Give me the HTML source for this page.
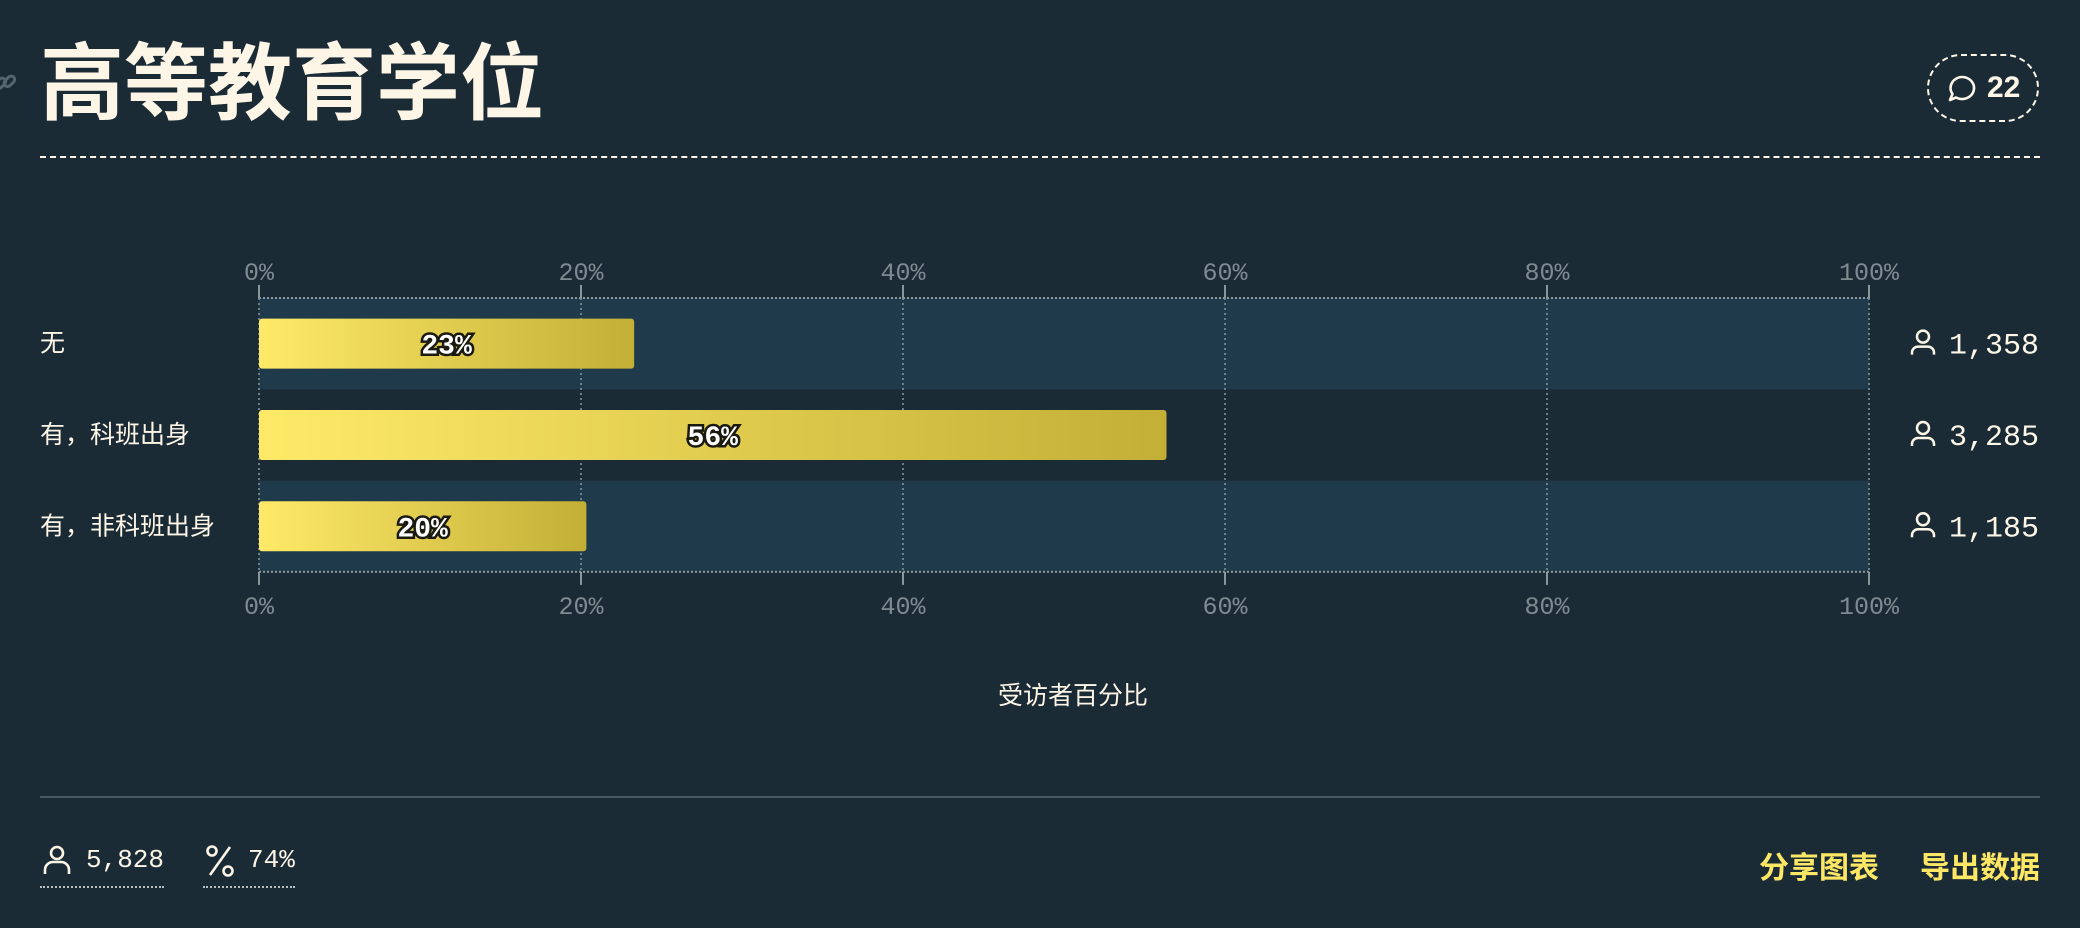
<!DOCTYPE html>
<html><head><meta charset="utf-8">
<style>
html,body{margin:0;padding:0;background:#1a2b36;}
body{width:2080px;height:928px;position:relative;overflow:hidden;font-family:"Liberation Sans","Noto Sans CJK SC",sans-serif;color:#fdf6e7;}
.abs{position:absolute;}
</style></head>
<body>
<div class="abs" style="left:-8px;top:70px;width:26px;height:26px;">
<svg width="26" height="26" viewBox="0 0 26 26"><g fill="none" stroke="#55656f" stroke-width="3"><rect x="2" y="10" width="12" height="7" rx="3.5" transform="rotate(-45 8 13)"/><rect x="11" y="8" width="12" height="7" rx="3.5" transform="rotate(-45 17 11)"/></g></svg></div>
<div class="abs" style="left:40px;top:34px;font-size:84px;font-weight:bold;line-height:100px;color:#fdf6e7;font-family:'Liberation Sans','Noto Sans CJK SC',sans-serif;">高等教育学位</div>
<div class="abs" style="left:1927px;top:54px;width:112px;height:68px;border:2px dashed #fdf6e7;border-radius:34px;box-sizing:border-box;">
<svg class="abs" style="left:18px;top:18px" width="30" height="30" viewBox="0 0 30 30"><path d="M15 3a12 11 0 1 1-6 20.5L3 26l2.5-6A12 11 0 0 1 15 3z" fill="none" stroke="#fdf6e7" stroke-width="2.6" stroke-linejoin="round"/></svg>
<span class="abs" style="left:58px;top:15px;font-size:30px;font-weight:bold;">22</span></div>
<div class="abs" style="left:40px;top:156px;width:2000px;border-top:2px dashed #fdf6e7;"></div>

<svg id="chart" class="abs" style="left:0;top:0" width="2080" height="928">
<defs><linearGradient id="g" x1="0" y1="0" x2="1" y2="0"><stop offset="0" stop-color="#ffea68"/><stop offset="1" stop-color="#c3af36"/></linearGradient></defs>
</svg>

<div class="abs" style="left:900px;top:676px;width:346px;text-align:center;font-size:25px;">受访者百分比</div>
<div class="abs" style="left:40px;top:796px;width:2000px;height:2px;background:#4a5a64;"></div>

<div class="abs" style="left:40px;top:842px;height:44px;width:124px;border-bottom:2px dotted #b8c0c4;">
<svg class="abs" style="left:2px;top:2px" width="30" height="32" viewBox="0 0 30 32"><circle cx="15" cy="9" r="6" fill="none" stroke="#fdf6e7" stroke-width="2.6"/><path d="M3 30v-4a8 8 0 0 1 8-8h8a8 8 0 0 1 8 8v4" fill="none" stroke="#fdf6e7" stroke-width="2.6"/></svg>
<span class="abs" style="left:46px;top:3px;font-size:26px;font-family:'Liberation Mono',monospace;">5,828</span></div>
<div class="abs" style="left:203px;top:842px;height:44px;width:92px;border-bottom:2px dotted #b8c0c4;">
<svg class="abs" style="left:2px;top:2px" width="30" height="34" viewBox="0 0 30 34"><circle cx="7" cy="7" r="4.5" fill="none" stroke="#fdf6e7" stroke-width="2.6"/><circle cx="23" cy="27" r="4.5" fill="none" stroke="#fdf6e7" stroke-width="2.6"/><line x1="25" y1="3" x2="5" y2="31" stroke="#fdf6e7" stroke-width="2.6"/></svg>
<span class="abs" style="left:45px;top:3px;font-size:26px;font-family:'Liberation Mono',monospace;">74%</span></div>
<div class="abs" style="left:1759px;top:843px;font-size:30px;font-weight:bold;color:#ffe766;">分享图表</div>
<div class="abs" style="left:1920px;top:843px;font-size:30px;font-weight:bold;color:#ffe766;">导出数据</div>

<script>
const categories=["无","有，科班出身","有，非科班出身"];
const counts=[1358,3285,1185];
const ticks=[0,20,40,60,80,100];
const tickLabels=["0%","20%","40%","60%","80%","100%"];

const NS="http://www.w3.org/2000/svg";
const svg=document.getElementById('chart');
const X0=259,X1=1869,TOP=298,ROW=91.3;
const total=counts.reduce((a,b)=>a+b,0);
const x=v=>X0+(X1-X0)*v/100;
const yRow=i=>TOP+i*ROW;
function mk(t,a){const e=document.createElementNS(NS,t);for(const k in a)e.setAttribute(k,a[k]);svg.appendChild(e);return e;}

categories.forEach((c,i)=>{
  if(i%2===0){const b=mk('rect',{x:X0,y:yRow(i),width:X1-X0,height:ROW,fill:'#1f3a4a'});
  
  }
});
const bottom=yRow(categories.length);
mk('line',{x1:X0,y1:TOP,x2:X1,y2:TOP,stroke:'#8a979d','stroke-width':2,'stroke-dasharray':'2 2'});
mk('line',{x1:X0,y1:bottom,x2:X1,y2:bottom,stroke:'#8a979d','stroke-width':2,'stroke-dasharray':'2 2'});
ticks.forEach((t,i)=>{
  const xx=x(t);
  const g=mk('line',{x1:xx,y1:TOP,x2:xx,y2:bottom,stroke:'#8a979d','stroke-width':1.5,'stroke-dasharray':'2 3'});
  
  
  mk('line',{x1:xx,y1:285,x2:xx,y2:TOP,stroke:'#8a979d','stroke-width':2});
  mk('line',{x1:xx,y1:bottom,x2:xx,y2:bottom+13,stroke:'#8a979d','stroke-width':2});
  [280,614].forEach(yy=>{
    const tl=mk('text',{x:xx,y:yy,'text-anchor':'middle',fill:'#7f8b90','font-size':25,'font-family':'Liberation Mono, monospace'});
    tl.textContent=tickLabels[i];
    
    
  });
});
categories.forEach((c,i)=>{
  const pct=counts[i]/total*100;
  const cy=yRow(i)+ROW/2;
  const lab=mk('text',{x:40,y:cy+8,fill:'#fdf6e7','font-size':25,'font-family':'Liberation Sans, Noto Sans CJK SC, sans-serif'});
  lab.textContent=c;
  
  
  const bar=mk('rect',{x:X0,y:cy-25,width:x(pct)-X0,height:50,rx:3,fill:'url(#g)'});
  
  
  const vl=mk('text',{x:(X0+x(pct))/2,y:cy+10,'text-anchor':'middle',fill:'#ffffff',stroke:'#1a1a10','stroke-width':5,'paint-order':'stroke','font-size':28,'font-weight':'bold','font-family':'Liberation Mono, monospace'});
  vl.textContent=Math.round(pct)+'%';
  
  
  const ic=mk('g',{transform:'translate(1911,'+(cy-14)+')'});
  
  
  const c1=document.createElementNS(NS,'circle');c1.setAttribute('cx',12);c1.setAttribute('cy',7);c1.setAttribute('r',6);c1.setAttribute('fill','none');c1.setAttribute('stroke','#fdf6e7');c1.setAttribute('stroke-width',2.5);ic.appendChild(c1);
  const p=document.createElementNS(NS,'path');p.setAttribute('d','M1 25v-2a6 6 0 0 1 6-6h10a6 6 0 0 1 6 6v2');p.setAttribute('fill','none');p.setAttribute('stroke','#fdf6e7');p.setAttribute('stroke-width',2.5);ic.appendChild(p);
  const n=mk('text',{x:2039,y:cy+10,'text-anchor':'end',fill:'#fdf6e7','font-size':30,'font-family':'Liberation Mono, monospace'});
  n.textContent=counts[i].toLocaleString('en-US');
  
  
});
</script>
</body></html>
